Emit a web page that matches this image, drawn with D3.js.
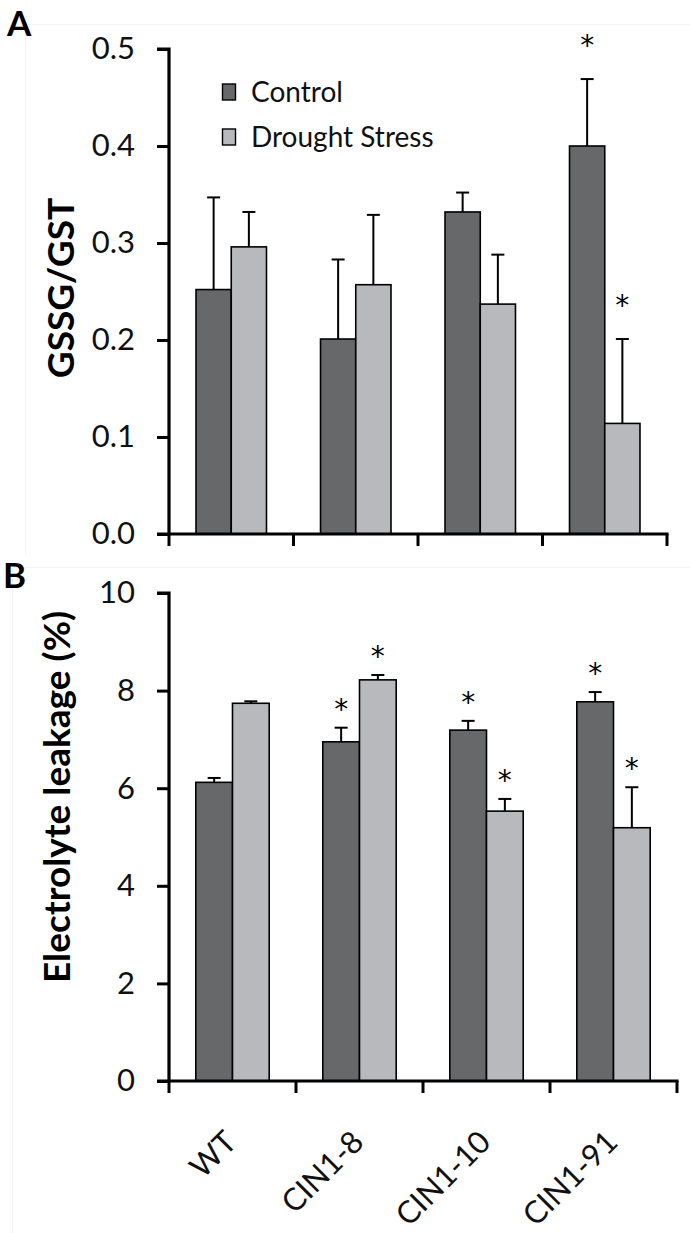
<!DOCTYPE html>
<html><head><meta charset="utf-8">
<script src="https://cdn.jsdelivr.net/npm/d3@7"></script>
<style>
html,body{margin:0;padding:0;background:#fff;}
svg{display:block;font-family:Lato,"Open Sans",sans-serif;}
</style></head>
<body>
<svg id="chart" width="690" height="1233"></svg>
<script>
const categories = ["WT", "CIN1-8", "CIN1-10", "CIN1-91"];
const seriesNames = ["Control", "Drought Stress"];

// Panel A: GSSG/GST
const gssgControl = [0.252, 0.201, 0.332, 0.400];
const gssgControlErr = [0.095, 0.082, 0.020, 0.069];
const gssgDrought = [0.296, 0.257, 0.237, 0.114];
const gssgDroughtErr = [0.036, 0.072, 0.051, 0.087];
const gssgSigControl = [false, false, false, true];
const gssgSigDrought = [false, false, false, true];
const gssgTicks = [0, 0.1, 0.2, 0.3, 0.4, 0.5];

// Panel B: Electrolyte leakage (%)
const elControl = [6.12, 6.95, 7.19, 7.77];
const elControlErr = [0.09, 0.29, 0.19, 0.20];
const elDrought = [7.74, 8.22, 5.53, 5.19];
const elDroughtErr = [0.04, 0.10, 0.25, 0.83];
const elSigControl = [false, true, true, true];
const elSigDrought = [false, true, true, true];
const elTicks = [0, 2, 4, 6, 8, 10];

const colors = ["#67686a", "#b8b9bc"];

const svg = d3.select("#chart");

// faint panel frames
svg.append("line").attr("x1", 25).attr("x2", 690).attr("y1", 24.5).attr("y2", 24.5).attr("stroke", "#f3f3f3");
svg.append("line").attr("x1", 25.5).attr("x2", 25.5).attr("y1", 24).attr("y2", 555).attr("stroke", "#f3f3f3");
svg.append("line").attr("x1", 12).attr("x2", 690).attr("y1", 567.5).attr("y2", 567.5).attr("stroke", "#f3f3f3");
svg.append("line").attr("x1", 12.5).attr("x2", 12.5).attr("y1", 567).attr("y2", 1233).attr("stroke", "#f3f3f3");

function drawPanel(cfg) {
  const g = svg.append("g");
  const x = d3.scaleBand().domain(categories).range([cfg.x0, cfg.x1]).paddingInner(0).paddingOuter(0);
  const y = d3.scaleLinear().domain([cfg.ticks[0], cfg.ticks[cfg.ticks.length - 1]]).range([cfg.y0, cfg.y1]);
  const bw = x.bandwidth();
  const inner = d3.scaleBand().domain(seriesNames).range([bw * (0.5 - cfg.barFrac), bw * (0.5 + cfg.barFrac)]).padding(0);

  const rows = [];
  categories.forEach((c, i) => {
    rows.push({c, s: seriesNames[0], v: cfg.ctrl[i], e: cfg.ctrlErr[i], sig: cfg.sigC[i], k: 0});
    rows.push({c, s: seriesNames[1], v: cfg.dr[i], e: cfg.drErr[i], sig: cfg.sigD[i], k: 1});
  });

  rows.forEach(r => {
    const cx = x(r.c) + inner(r.s) + inner.bandwidth() / 2;
    g.append("line").attr("x1", cx).attr("x2", cx).attr("y1", y(r.v)).attr("y2", y(r.v + r.e))
      .attr("stroke", "#000").attr("stroke-width", 2);
    g.append("line").attr("x1", cx - 6.5).attr("x2", cx + 6.5).attr("y1", y(r.v + r.e)).attr("y2", y(r.v + r.e))
      .attr("stroke", "#000").attr("stroke-width", 2);
    if (r.sig) {
      g.append("text").attr("x", cx).attr("y", y(r.v + r.e) - cfg.starGap)
        .attr("text-anchor", "middle").attr("font-size", 28)
        .attr("font-family", "'DejaVu Sans', sans-serif").attr("fill", "#000").text("*");
    }
  });

  g.selectAll("rect.bar").data(rows).join("rect").attr("class", "bar")
    .attr("x", d => x(d.c) + inner(d.s))
    .attr("width", inner.bandwidth())
    .attr("y", d => y(d.v))
    .attr("height", d => y(0) - y(d.v))
    .attr("fill", d => colors[d.k])
    .attr("stroke", "#000").attr("stroke-width", 1.6);

  const ya = d3.axisLeft(y).tickValues(cfg.ticks).tickFormat(cfg.fmt).tickSize(12).tickPadding(22);
  const yg = g.append("g").attr("transform", `translate(${cfg.x0},0)`).call(ya);
  yg.select(".domain").attr("stroke-width", 3.2).attr("d", `M-12,${cfg.y1}H0V${cfg.y0}`);
  yg.selectAll(".tick line").attr("stroke-width", 3);
  yg.selectAll(".tick text").attr("font-size", 31).attr("fill", "#111").attr("font-family", "Lato, sans-serif");

  const bounds = categories.map(c => x(c)).concat([cfg.x1]);
  g.append("line").attr("x1", cfg.x0 - 12).attr("x2", cfg.x1 + 1.5).attr("y1", cfg.y0).attr("y2", cfg.y0)
    .attr("stroke", "#000").attr("stroke-width", 3.2);
  g.selectAll("line.xt").data(bounds).join("line").attr("class", "xt")
    .attr("x1", d => d).attr("x2", d => d).attr("y1", cfg.y0).attr("y2", cfg.y0 + 12)
    .attr("stroke", "#000").attr("stroke-width", 3);

  g.append("text")
    .attr("transform", `translate(${cfg.titleX},${cfg.titleY}) rotate(-90)`)
    .attr("text-anchor", "middle").attr("font-weight", "bold").attr("font-size", cfg.titleSize)
    .attr("fill", "#000").text(cfg.title);
  return {x, y};
}

drawPanel({
  x0: 169, x1: 667, y0: 534, y1: 49, barFrac: 0.283,
  ctrl: gssgControl, ctrlErr: gssgControlErr, dr: gssgDrought, drErr: gssgDroughtErr,
  sigC: gssgSigControl, sigD: gssgSigDrought, ticks: gssgTicks, fmt: d3.format(".1f"),
  starGap: 24, title: "GSSG/GST", titleX: 74, titleY: 288, titleSize: 37
});

const pB = drawPanel({
  x0: 169, x1: 677, y0: 1081, y1: 593, barFrac: 0.289,
  ctrl: elControl, ctrlErr: elControlErr, dr: elDrought, drErr: elDroughtErr,
  sigC: elSigControl, sigD: elSigDrought, ticks: elTicks, fmt: d3.format("d"),
  starGap: 9, title: "Electrolyte leakage (%)", titleX: 70, titleY: 797, titleSize: 37
});

// x category labels (bottom)
svg.append("g").selectAll("text").data(categories).join("text")
  .attr("transform", d => `translate(${pB.x(d) + pB.x.bandwidth() / 2 + 6},${1144}) rotate(-45)`)
  .attr("text-anchor", "end").attr("font-size", 31).attr("fill", "#111").text(d => d);

// legend
const leg = svg.append("g");
seriesNames.forEach((s, i) => {
  const ly = 92 + i * 45;
  leg.append("rect").attr("x", 222.5).attr("y", ly - 8).attr("width", 13).attr("height", 16)
    .attr("fill", colors[i]).attr("stroke", "#000").attr("stroke-width", 1.4);
  leg.append("text").attr("x", 251).attr("y", ly + 10).attr("font-size", 28).attr("fill", "#111").text(s);
});

// panel letters
svg.append("text").attr("x", 7).attr("y", 36).attr("font-size", 35).attr("font-weight", "bold").text("A");
svg.append("text").attr("x", 3).attr("y", 588).attr("font-size", 35).attr("font-weight", "bold").text("B");
</script>
</body></html>
